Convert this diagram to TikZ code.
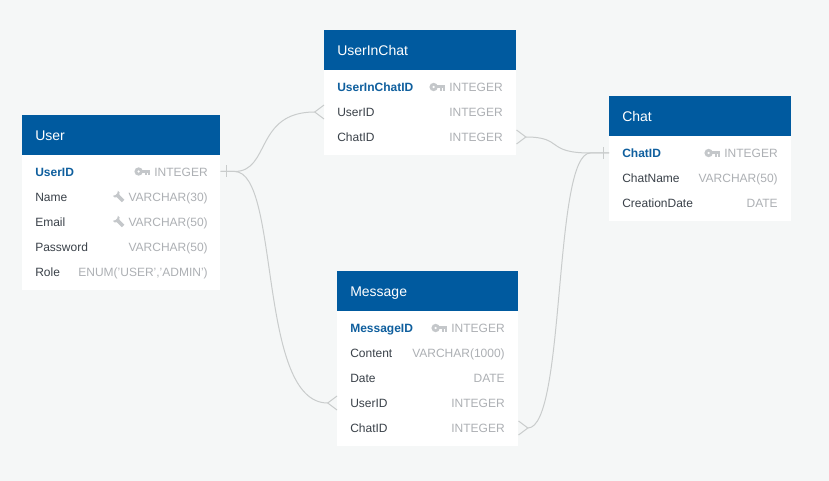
\documentclass[tikz,border=0pt]{standalone}
\usepackage{fontspec}
\setmainfont{Liberation Sans}
\definecolor{bgc}{HTML}{F5F7F7}
\definecolor{headc}{HTML}{005A9F}
\definecolor{pkc}{HTML}{0F5F9E}
\definecolor{namec}{HTML}{3A4149}
\definecolor{typec}{HTML}{ADB0B4}
\definecolor{iconc}{HTML}{C4C7CA}
\definecolor{linec}{HTML}{C9CCCC}
\newdimen\pxu \pxu=0.75pt
\tikzset{
  x=0.75pt,y=-0.75pt,
  tablehead/.style={fill=headc,text=white,font=\fontsize{10.5pt}{12pt}\selectfont,anchor=north west,
    minimum height=40*\pxu,inner xsep=13*\pxu,inner ysep=0pt,align=left,text height=7.6pt,text depth=0.2pt},
  tablebody/.style={fill=white,anchor=north west,inner sep=0pt},
  fieldtext/.style={font=\fontsize{9pt}{11pt}\selectfont,inner sep=0pt,text height=7pt,text depth=0.2pt},
  fieldname/.style={fieldtext,anchor=west,text=namec},
  pkname/.style={fieldtext,anchor=west,text=pkc,font=\fontsize{9pt}{11pt}\selectfont\bfseries},
  fieldtype/.style={fieldtext,anchor=east,text=typec},
  rel/.style={draw=linec,line width=0.75pt},
}
\newcommand{\keyicon}[1]{%
  \fill[iconc,even odd rule] ([xshift=-15.5*\pxu]#1.west) circle (4.2*\pxu) circle (1.5*\pxu);
  \fill[iconc] ([shift={(-13*\pxu,-1.2*\pxu)}]#1.west) rectangle ([shift={(-4*\pxu,1.9*\pxu)}]#1.west);
  \fill[iconc] ([shift={(-9.5*\pxu,0)}]#1.west) rectangle ([shift={(-7.5*\pxu,-3.6*\pxu)}]#1.west);
  \fill[iconc] ([shift={(-6.5*\pxu,0)}]#1.west) rectangle ([shift={(-4.5*\pxu,-3.6*\pxu)}]#1.west);
}
\newcommand{\wrenchicon}[1]{%
  \begin{scope}[shift={([shift={(-10.5*\pxu,0.8*\pxu)}]#1.west)},rotate=-45]
    \fill[iconc] (-1.4*\pxu,-1.7*\pxu) rectangle (7.5*\pxu,1.7*\pxu);
    \fill[iconc] (-3.4*\pxu,-3.6*\pxu) -- (-1.2*\pxu,-3.6*\pxu) -- (0.4*\pxu,-1.7*\pxu) -- (0.4*\pxu,1.7*\pxu) -- (-1.2*\pxu,3.6*\pxu) -- (-3.4*\pxu,3.6*\pxu) -- (-2*\pxu,1.1*\pxu) -- (-2*\pxu,-1.1*\pxu) -- cycle;
  \end{scope}
}
\begin{document}
\begin{tikzpicture}
\useasboundingbox (0,0) rectangle (829,481);
\fill[bgc] (0,0) rectangle (829,481);

% User
\node[tablebody,minimum width=198*\pxu,minimum height=175*\pxu] (user) at (22,115) {};
\node[tablehead,minimum width=198*\pxu,text width=172*\pxu] (userhead) at (22,115) {User};
\node[pkname] (u1n) at (35,171.5) {UserID};
\node[fieldtype] (u1t) at (208,171.5) {INTEGER}; \keyicon{u1t}
\node[fieldname] (u2n) at (35,196.5) {Name};
\node[fieldtype] (u2t) at (208,196.5) {VARCHAR(30)}; \wrenchicon{u2t}
\node[fieldname] (u3n) at (35,221.5) {Email};
\node[fieldtype] (u3t) at (208,221.5) {VARCHAR(50)}; \wrenchicon{u3t}
\node[fieldname] (u4n) at (35,246.5) {Password};
\node[fieldtype] (u4t) at (208,246.5) {VARCHAR(50)};
\node[fieldname] (u5n) at (35,271.5) {Role};
\node[fieldtype] (u5t) at (208,271.5) {ENUM('USER','ADMIN')};

% UserInChat
\node[tablebody,minimum width=192*\pxu,minimum height=125*\pxu] (uic) at (324,30) {};
\node[tablehead,minimum width=192*\pxu,text width=166*\pxu] (uichead) at (324,30) {UserInChat};
\node[pkname] (i1n) at (337,87) {UserInChatID};
\node[fieldtype] (i1t) at (503,87) {INTEGER}; \keyicon{i1t}
\node[fieldname] (i2n) at (337,112) {UserID};
\node[fieldtype] (i2t) at (503,112) {INTEGER};
\node[fieldname] (i3n) at (337,137) {ChatID};
\node[fieldtype] (i3t) at (503,137) {INTEGER};

% Chat
\node[tablebody,minimum width=182*\pxu,minimum height=125*\pxu] (chat) at (609,96) {};
\node[tablehead,minimum width=182*\pxu,text width=156*\pxu] (chathead) at (609,96) {Chat};
\node[pkname] (c1n) at (622,153) {ChatID};
\node[fieldtype] (c1t) at (778,153) {INTEGER}; \keyicon{c1t}
\node[fieldname] (c2n) at (622,178) {ChatName};
\node[fieldtype] (c2t) at (778,178) {VARCHAR(50)};
\node[fieldname] (c3n) at (622,203) {CreationDate};
\node[fieldtype] (c3t) at (778,203) {DATE};

% Message
\node[tablebody,minimum width=181*\pxu,minimum height=175*\pxu] (msg) at (337,271) {};
\node[tablehead,minimum width=181*\pxu,text width=155*\pxu] (msghead) at (337,271) {Message};
\node[pkname] (m1n) at (350,328) {MessageID};
\node[fieldtype] (m1t) at (505,328) {INTEGER}; \keyicon{m1t}
\node[fieldname] (m2n) at (350,353) {Content};
\node[fieldtype] (m2t) at (505,353) {VARCHAR(1000)};
\node[fieldname] (m3n) at (350,378) {Date};
\node[fieldtype] (m3t) at (505,378) {DATE};
\node[fieldname] (m4n) at (350,403) {UserID};
\node[fieldtype] (m4t) at (505,403) {INTEGER};
\node[fieldname] (m5n) at (350,428) {ChatID};
\node[fieldtype] (m5t) at (505,428) {INTEGER};

% Connector ports
\coordinate (pUser) at (user.east |- u1t);
\coordinate (pUic1) at (uic.west |- i2n);
\coordinate (pUic2) at (uic.east |- i3t);
\coordinate (pChat) at (chat.west |- c1n);
\coordinate (pMsg1) at (msg.west |- m4n);
\coordinate (pMsg2) at (msg.east |- m5t);

% User -- UserInChat
\draw[rel] (pUser) -- ++(14,0) .. controls +(36,0) and ([xshift=-52]pUic1) .. ([xshift=-7]pUic1);
\draw[rel] ([shift={(0,-7)}]pUic1) -- ([xshift=-7]pUic1) -- ([shift={(0,7)}]pUic1);
% User -- Message
\draw[rel] (pUser) -- ++(14,0) .. controls +(46,0) and ([xshift=-60]pMsg1) .. ([xshift=-7]pMsg1);
\draw[rel] ([shift={(0,-7)}]pMsg1) -- ([xshift=-7]pMsg1) -- ([shift={(0,7)}]pMsg1);
\draw[rel] ([shift={(6,-6)}]pUser) -- ([shift={(6,6)}]pUser);
% UserInChat -- Chat
\draw[rel] ([xshift=7]pUic2) .. controls +(38,0) and ([xshift=-48]pChat) .. ([xshift=-14]pChat) -- (pChat);
\draw[rel] ([shift={(0,-7)}]pUic2) -- ([xshift=7]pUic2) -- ([shift={(0,7)}]pUic2);
% Message -- Chat
\draw[rel] ([xshift=7]pMsg2) .. controls +(38,0) and ([xshift=-42]pChat) .. ([xshift=-14]pChat) -- (pChat);
\draw[rel] ([shift={(0,-7)}]pMsg2) -- ([xshift=7]pMsg2) -- ([shift={(0,7)}]pMsg2);
\draw[rel] ([shift={(-6,-6)}]pChat) -- ([shift={(-6,6)}]pChat);
\end{tikzpicture}
\end{document}
